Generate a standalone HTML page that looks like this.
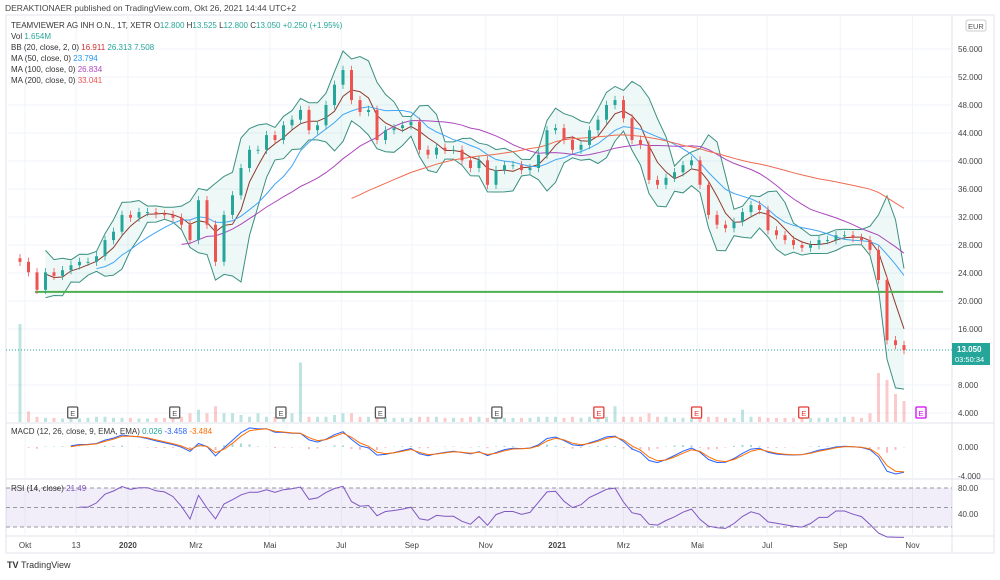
<!DOCTYPE html>
<html><head><meta charset="utf-8"><style>
body{margin:0;background:#fff;width:1000px;height:575px;overflow:hidden;font-family:"Liberation Sans",sans-serif}
svg text{font-family:"Liberation Sans",sans-serif}
</style></head><body>
<svg id="c" width="1000" height="575" xmlns="http://www.w3.org/2000/svg">
<rect x="0" y="0" width="1000" height="575" fill="#fff"/>
<text x="5" y="11" font-size="8.5" fill="#444">DERAKTIONAER published on TradingView.com, Okt 26, 2021 14:44 UTC+2</text>
<rect x="6" y="15" width="988" height="538" fill="none" stroke="#e0e3eb"/>
<line x1="952" y1="15" x2="952" y2="553" stroke="#e0e3eb"/>
<line x1="6" y1="423" x2="994" y2="423" stroke="#e0e3eb"/>
<line x1="6" y1="479" x2="994" y2="479" stroke="#e0e3eb"/>
<line x1="6" y1="536" x2="994" y2="536" stroke="#e0e3eb"/>
<g id="grid"></g>
<rect x="6" y="488" width="946" height="39" fill="#7e57c2" fill-opacity="0.1"/>
<g stroke="#9598a1" stroke-dasharray="4,3" stroke-width="1">
<line x1="6" y1="488" x2="952" y2="488"/><line x1="6" y1="507.5" x2="952" y2="507.5"/><line x1="6" y1="527" x2="952" y2="527"/></g>
<g id="plot"></g>
<g font-size="8">
<text x="11" y="28" fill="#333">TEAMVIEWER AG INH O.N., 1T, XETR  O<tspan fill="#26a69a">12.800</tspan>  H<tspan fill="#26a69a">13.525</tspan>  L<tspan fill="#26a69a">12.800</tspan>  C<tspan fill="#26a69a">13.050  +0.250 (+1.95%)</tspan></text>
<text x="11" y="39" fill="#333">Vol  <tspan fill="#26a69a">1.654M</tspan></text>
<text x="11" y="50" fill="#333">BB (20, close, 2, 0)  <tspan fill="#d32f2f">16.911</tspan>  <tspan fill="#26a69a">26.313  7.508</tspan></text>
<text x="11" y="61" fill="#333">MA (50, close, 0)  <tspan fill="#2196f3">23.794</tspan></text>
<text x="11" y="72" fill="#333">MA (100, close, 0)  <tspan fill="#ab47bc">26.834</tspan></text>
<text x="11" y="83" fill="#333">MA (200, close, 0)  <tspan fill="#ef5350">33.041</tspan></text>
<text x="11" y="434" fill="#333">MACD (12, 26, close, 9, EMA, EMA)  <tspan fill="#26a69a">0.026</tspan>  <tspan fill="#2962ff">-3.458</tspan>  <tspan fill="#ff6d00">-3.484</tspan></text>
<text x="11" y="491" fill="#333">RSI (14, close)  <tspan fill="#7e57c2">21.49</tspan></text>
</g>
<rect x="952" y="343" width="38" height="22" fill="#26a69a"/>
<text x="957" y="352" font-size="8" font-weight="bold" fill="#fff">13.050</text>
<text x="955" y="362" font-size="7.5" fill="#fff">03:50:34</text>
<rect x="966" y="20" width="20" height="11" fill="#fff" stroke="#ccc" rx="2"/>
<text x="968" y="29" font-size="7.5" fill="#555">EUR</text>
<text x="7" y="568" font-size="9" fill="#333" font-weight="bold">TV <tspan font-weight="normal">TradingView</tspan></text>
</svg>
<script>
const closes=[25.6,24.1,21.6,24.1,23.6,24.4,25.1,25.6,25.6,26.4,28.7,29.9,32.3,31.9,32.7,32.7,32.4,32.3,31.9,30.9,28.7,34.4,30.9,25.6,32.3,35.1,39,41.6,41.6,43.7,43,45.1,45.9,47.3,44.4,45.1,48,50.9,53,48.7,47,47.3,43,44.4,44.7,45.1,45.6,41.6,40.9,41.9,41.6,41.6,40.1,39,40.1,36.6,38.7,39.4,39.4,38.7,39,40.9,44.4,44.7,43,41.6,42.3,44.4,45.9,48,48.7,46.1,43,42.3,37.3,36.6,37.6,38.4,39.4,40.1,36.6,32.3,30.9,30.4,31.3,32.7,33.7,33,30.1,29.4,28.7,28,27.6,28,28.7,28.7,29.4,29.4,29,28.7,27.3,23,14.4,13.7,13];
const volumes=[28,3,1.5,1.2,1.2,1,1.2,1,1.2,1.5,1.5,1.2,1.2,1.2,1,1,1.2,1.2,1.5,1.5,2.5,3.5,2.5,4.5,2.5,2.5,2,1.5,2.5,1.5,1.5,2,2.5,17,1.5,1.5,1.5,2,2.5,2.5,1.5,1.5,1.5,1.5,1.2,1.2,1.2,1.5,1.5,1.5,1.2,1.2,1.2,1.5,1.5,1.2,1.2,1.2,1.2,1.2,1.2,1.5,1.5,1.5,1.2,1.5,1.2,1.5,2.5,1.5,4.5,1.5,1.5,1.5,2.5,1.5,1.5,1.2,1.2,1.2,1.5,1.5,1.5,1.2,1.2,3.5,1.5,1.5,1.2,1.2,1.2,1.2,1.5,1.2,1.2,1.2,1.2,1.5,1.5,1.2,2.5,14,12,8,6];
const priceTicks=[4,8,16,20,24,28,32,36,40,44,48,52,56];
const timeLabels=["Okt","13","2020","Mrz","Mai","Jul","Sep","Nov","2021","Mrz","Mai","Jul","Sep","Nov"];
const timeIdx=[0.6,6.6,12.7,20.7,29.4,37.8,46.1,54.8,63.2,71,79.7,87.9,96.5,105];
const earnIdx=[6.2,18.2,30.7,42.4,56.1,68.1,79.6,92.2,106];
const lineLevel=21.3;

const S=document.getElementById('plot'),G=document.getElementById('grid'),NS='http://www.w3.org/2000/svg';
function mk(t,a,p){const e=document.createElementNS(NS,t);for(const k in a)e.setAttribute(k,a[k]);(p||S).appendChild(e);return e;}
const X=i=>20+8.5*i;
const Y=p=>413-(p-4)*7;
const YM=v=>447-v*7.2;
const YR=v=>514-(v-40)*0.65;
const YV=v=>422-v*3.5;
priceTicks.forEach(p=>{mk('line',{x1:6,x2:952,y1:Y(p),y2:Y(p),stroke:'#f0f3fa'},G);
 const t=mk('text',{x:958,y:Y(p)+3,'font-size':8,fill:'#444'},G);t.textContent=p.toFixed(3);
 });
[[0,'0.000'],[-4,'-4.000']].forEach(([v,l])=>{const t=mk('text',{x:958,y:YM(v)+3,'font-size':8,fill:'#444'},G);t.textContent=l;});
[[80,'80.00'],[40,'40.00']].forEach(([v,l])=>{const t=mk('text',{x:958,y:YR(v)+3,'font-size':8,fill:'#444'},G);t.textContent=l;});
timeLabels.forEach((l,k)=>{const x=X(timeIdx[k]);mk('line',{x1:x,x2:x,y1:15,y2:536,stroke:'#f0f3fa'},G);
 const t=mk('text',{x:x,y:548,'font-size':8,fill:'#444','text-anchor':'middle','font-weight':(l.length==4?'bold':'normal')},G);t.textContent=l;
 });
const n=closes.length;
function sma(w){return closes.map((c,i)=>i<w-1?null:closes.slice(i-w+1,i+1).reduce((a,b)=>a+b)/w);}
function path(arr,fy,color,name,sw){let d='';arr.forEach((v,i)=>{if(v==null)return;d+=(d?'L':'M')+X(i).toFixed(1)+','+fy(v).toFixed(1);});
 const e=mk('path',{d:d,fill:'none',stroke:color,'stroke-width':sw||1});return e;}
const bw=4,basis=sma(bw),up=[],lo=[];
closes.forEach((c,i)=>{if(basis[i]==null){up.push(null);lo.push(null);return;}const s=closes.slice(i-bw+1,i+1);const sd=Math.sqrt(s.reduce((a,b)=>a+(b-basis[i])**2,0)/bw);up.push(basis[i]+2*sd+0.5);lo.push(basis[i]-2*sd-0.5);});
let fd='';up.forEach((v,i)=>{if(v!=null)fd+=(fd?'L':'M')+X(i)+','+Y(v);});for(let i=n-1;i>=0;i--)if(lo[i]!=null)fd+='L'+X(i)+','+Y(lo[i]);
const fill=mk('path',{d:fd+'Z',fill:'#26a69a','fill-opacity':0.08});

path(up,Y,'#3a8f80','bb-upper');path(lo,Y,'#3a8f80','bb-lower');path(basis,Y,'#8d3a2e','bb-basis');
path(sma(10),Y,'#42a5f5','ma50');path(sma(20),Y,'#ab47bc','ma100');path(sma(40),Y,'#ef6c50','ma200');
const sl=mk('line',{x1:35,x2:943,y1:Y(lineLevel),y2:Y(lineLevel),stroke:'#4caf50','stroke-width':2});

mk('line',{x1:6,x2:952,y1:Y(closes[n-1]),y2:Y(closes[n-1]),stroke:'#26a69a','stroke-dasharray':'1,2'});
volumes.forEach((v,i)=>{const isUp=i==0||closes[i]>=closes[i-1];const r=mk('rect',{x:X(i)-1.5,y:YV(v),width:3,height:422-YV(v),fill:isUp?'#26a69a':'#ef5350','fill-opacity':0.3});
 });
closes.forEach((c,i)=>{const o=i==0?c+0.5:closes[i-1];const isUp=c>=o;const col=isUp?'#26a69a':'#ef5350';
 const hi=Math.max(o,c)+0.6,lw=Math.min(o,c)-0.6;
 const g=mk('g',{});
 mk('line',{x1:X(i),x2:X(i),y1:Y(hi),y2:Y(lw),stroke:col,'stroke-width':0.8},g);
 mk('rect',{x:X(i)-1.5,y:Y(Math.max(o,c)),width:3,height:Math.max(1,Math.abs(Y(o)-Y(c))),fill:col},g);});
earnIdx.forEach((k,j)=>{const x=X(k);const col=j<5?'#555':(j<8?'#e53935':'#d500f9');
 const r=mk('rect',{x:x-5,y:407,width:10,height:11,fill:'#fff',stroke:col,'stroke-width':1.3,rx:1});
 
 const t=mk('text',{x:x,y:416,'font-size':7.5,fill:col,'text-anchor':'middle'});t.textContent='E';});
function ema(arr,p){const a=2/(p+1);let out=[],e=arr[0];arr.forEach(v=>{e=a*v+(1-a)*e;out.push(e);});return out;}
const e12=ema(closes,3),e26=ema(closes,6);const macd=closes.map((c,i)=>e12[i]-e26[i]);const sig=ema(macd,2);
macd.forEach((v,i)=>{const h=v-sig[i];const r=mk('rect',{x:X(i)-1,y:Math.min(YM(0),YM(h)),width:2,height:Math.abs(YM(h)-YM(0)),fill:h>=0?'#26a69a':'#ef5350','fill-opacity':0.4});
 });
path(macd.map((v,i)=>i<6?null:v),YM,'#2962ff','macd-line');path(sig.map((v,i)=>i<6?null:v),YM,'#ff6d00','signal-line');
const rsi=[];let ag=0,al=0;const rp=6;
closes.forEach((c,i)=>{if(i==0){rsi.push(null);return;}const d=c-closes[i-1];const g=Math.max(d,0),l=Math.max(-d,0);
 if(i<=rp){ag+=g/rp;al+=l/rp;rsi.push(null);return;}ag=(ag*(rp-1)+g)/rp;al=(al*(rp-1)+l)/rp;rsi.push(al==0?100:100-100/(1+ag/al));});
path(rsi,YR,'#7e57c2','rsi-line');
</script>
</body></html>
